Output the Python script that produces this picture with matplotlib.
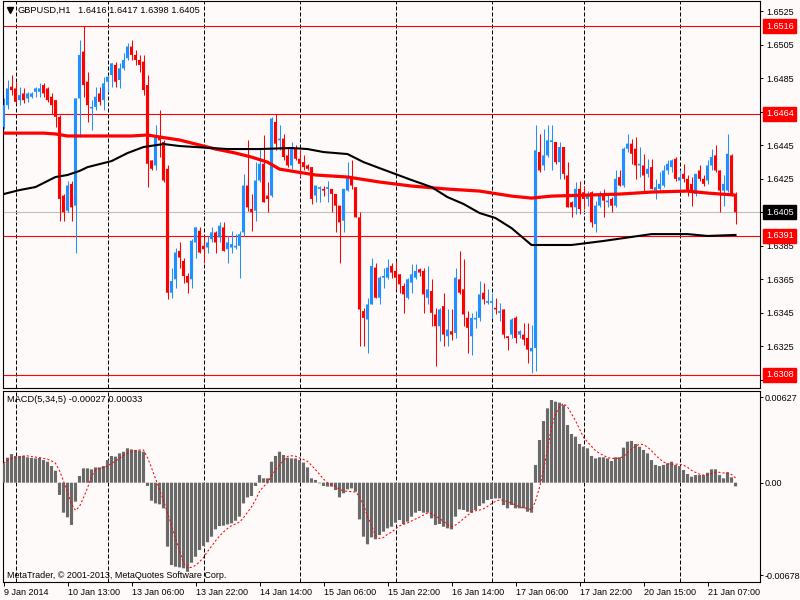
import numpy as np
import pandas as pd
import matplotlib
matplotlib.use("Agg")
import matplotlib.pyplot as plt
import matplotlib.transforms as mtrans

plt.rcParams['font.family'] = ['Liberation Sans', 'DejaVu Sans']
plt.rcParams['font.size'] = 6.5

BG = '#FFFAFA'
BULL = '#1E90FF'
BEAR = '#FF0000'

# GBPUSD H1, 9 Jan 21:00 .. 21 Jan 14:00
opens = [
    1.6456, 1.6469, 1.6480, 1.6479, 1.6472, 1.6476, 1.6473, 1.6474, 1.6477, 1.6477,
    1.6481, 1.6479, 1.6474, 1.6472, 1.6462, 1.6415, 1.6406, 1.6422, 1.6409, 1.6473,
    1.6501, 1.6483, 1.6467, 1.6468, 1.6476, 1.6472, 1.6483, 1.6487, 1.6493, 1.6484,
    1.6491, 1.6497, 1.6504, 1.6499, 1.6496, 1.6495, 1.6481, 1.6436, 1.6433, 1.6450,
    1.6447, 1.6431, 1.6357, 1.6365, 1.6382, 1.6376, 1.6367, 1.6365, 1.6387, 1.6394,
    1.6385, 1.6384, 1.6389, 1.6393, 1.6390, 1.6396, 1.6383, 1.6384, 1.6384, 1.6385,
    1.6393, 1.6421, 1.6407, 1.6406, 1.6424, 1.6434, 1.6415, 1.6415, 1.6459, 1.6448,
    1.6449, 1.6439, 1.6433, 1.6443, 1.6437, 1.6435, 1.6433, 1.6432, 1.6415, 1.6419,
    1.6419, 1.6419, 1.6419, 1.6416, 1.6409, 1.6400, 1.6418, 1.6426, 1.6420, 1.6402,
    1.6346, 1.6341, 1.6350, 1.6372, 1.6354, 1.6366, 1.6366, 1.6373, 1.6370, 1.6368,
    1.6361, 1.6354, 1.6363, 1.6366, 1.6371, 1.6370, 1.6354, 1.6358, 1.6344, 1.6337,
    1.6349, 1.6331, 1.6334, 1.6333, 1.6365, 1.6359, 1.6342, 1.6331, 1.6341, 1.6342,
    1.6357, 1.6351, 1.6351, 1.6348, 1.6345, 1.6347, 1.6331, 1.6332, 1.6342, 1.6332,
    1.6332, 1.6330, 1.6322, 1.6324, 1.6441, 1.6433, 1.6439, 1.6447, 1.6447, 1.6435,
    1.6444, 1.6427, 1.6411, 1.6408, 1.6419, 1.6417, 1.6413, 1.6417, 1.6398, 1.6409,
    1.6416, 1.6411, 1.6413, 1.6409, 1.6426, 1.6421, 1.6443, 1.6446, 1.6443, 1.6433,
    1.6433, 1.6428, 1.6432, 1.6418, 1.6419, 1.6421, 1.6430, 1.6432, 1.6437, 1.6424,
    1.6428, 1.6425, 1.6422, 1.6416, 1.6430, 1.6425, 1.6424, 1.6433, 1.6439, 1.6430,
    1.6418, 1.6418, 1.6439, 1.6416,
]
highs = [
    1.6473, 1.6484, 1.6487, 1.6483, 1.6480, 1.6479, 1.6477, 1.6477, 1.6480, 1.6482,
    1.6482, 1.6480, 1.6476, 1.6472, 1.6463, 1.6416, 1.6424, 1.6424, 1.6473, 1.6508,
    1.6516, 1.6489, 1.6472, 1.6480, 1.6480, 1.6486, 1.6487, 1.6494, 1.6495, 1.6494,
    1.6500, 1.6506, 1.6508, 1.6502, 1.6499, 1.6499, 1.6487, 1.6436, 1.6457, 1.6466,
    1.6448, 1.6433, 1.6372, 1.6384, 1.6387, 1.6378, 1.6369, 1.6389, 1.6396, 1.6396,
    1.6390, 1.6391, 1.6396, 1.6394, 1.6399, 1.6399, 1.6391, 1.6394, 1.6392, 1.6394,
    1.6428, 1.6448, 1.6416, 1.6435, 1.6443, 1.6451, 1.6423, 1.6462, 1.6464, 1.6457,
    1.6452, 1.6444, 1.6447, 1.6445, 1.6442, 1.6439, 1.6434, 1.6432, 1.6421, 1.6421,
    1.6421, 1.6424, 1.6419, 1.6416, 1.6409, 1.6419, 1.6435, 1.6436, 1.6420, 1.6405,
    1.6348, 1.6354, 1.6378, 1.6375, 1.6367, 1.6372, 1.6377, 1.6375, 1.6376, 1.6368,
    1.6363, 1.6366, 1.6374, 1.6374, 1.6372, 1.6372, 1.6373, 1.6365, 1.6348, 1.6348,
    1.6357, 1.6347, 1.6347, 1.6372, 1.6382, 1.6377, 1.6346, 1.6345, 1.6346, 1.6364,
    1.6363, 1.6359, 1.6357, 1.6354, 1.6351, 1.6347, 1.6331, 1.6342, 1.6343, 1.6335,
    1.6339, 1.6339, 1.6338, 1.6457, 1.6452, 1.6455, 1.6457, 1.6457, 1.6447, 1.6447,
    1.6444, 1.6435, 1.6412, 1.6423, 1.6424, 1.6421, 1.6418, 1.6418, 1.6412, 1.6418,
    1.6419, 1.6416, 1.6414, 1.6430, 1.6430, 1.6444, 1.6452, 1.6449, 1.6450, 1.6444,
    1.6440, 1.6437, 1.6437, 1.6425, 1.6429, 1.6433, 1.6436, 1.6437, 1.6438, 1.6430,
    1.6434, 1.6427, 1.6426, 1.6428, 1.6433, 1.6427, 1.6436, 1.6443, 1.6445, 1.6430,
    1.6427, 1.6452, 1.6440, 1.6417,
]
lows = [
    1.6455, 1.6467, 1.6475, 1.6470, 1.6469, 1.6470, 1.6471, 1.6473, 1.6474, 1.6474,
    1.6474, 1.6471, 1.6464, 1.6456, 1.6400, 1.6400, 1.6405, 1.6400, 1.6381, 1.6450,
    1.6474, 1.6459, 1.6454, 1.6466, 1.6469, 1.6466, 1.6477, 1.6480, 1.6480, 1.6479,
    1.6490, 1.6496, 1.6496, 1.6493, 1.6489, 1.6475, 1.6420, 1.6430, 1.6430, 1.6438,
    1.6423, 1.6353, 1.6354, 1.6360, 1.6372, 1.6363, 1.6357, 1.6360, 1.6378, 1.6381,
    1.6375, 1.6381, 1.6387, 1.6381, 1.6387, 1.6382, 1.6375, 1.6381, 1.6383, 1.6366,
    1.6391, 1.6406, 1.6394, 1.6400, 1.6423, 1.6411, 1.6405, 1.6414, 1.6442, 1.6442,
    1.6436, 1.6432, 1.6431, 1.6436, 1.6426, 1.6430, 1.6430, 1.6410, 1.6411, 1.6411,
    1.6415, 1.6411, 1.6405, 1.6393, 1.6375, 1.6393, 1.6418, 1.6419, 1.6402, 1.6325,
    1.6325, 1.6321, 1.6350, 1.6354, 1.6350, 1.6360, 1.6365, 1.6366, 1.6359, 1.6357,
    1.6345, 1.6353, 1.6357, 1.6365, 1.6367, 1.6345, 1.6350, 1.6337, 1.6313, 1.6328,
    1.6325, 1.6325, 1.6329, 1.6330, 1.6356, 1.6337, 1.6321, 1.6320, 1.6336, 1.6340,
    1.6350, 1.6350, 1.6342, 1.6344, 1.6340, 1.6330, 1.6323, 1.6330, 1.6327, 1.6330,
    1.6326, 1.6315, 1.6309, 1.6310, 1.6429, 1.6430, 1.6438, 1.6430, 1.6434, 1.6425,
    1.6425, 1.6408, 1.6402, 1.6404, 1.6404, 1.6407, 1.6409, 1.6396, 1.6393, 1.6408,
    1.6402, 1.6408, 1.6405, 1.6408, 1.6421, 1.6420, 1.6441, 1.6434, 1.6425, 1.6426,
    1.6418, 1.6426, 1.6419, 1.6413, 1.6418, 1.6420, 1.6428, 1.6429, 1.6424, 1.6417,
    1.6423, 1.6415, 1.6409, 1.6415, 1.6424, 1.6421, 1.6422, 1.6430, 1.6429, 1.6405,
    1.6409, 1.6417, 1.6415, 1.6398,
]
closes = [
    1.6469, 1.6479, 1.6478, 1.6471, 1.6475, 1.6472, 1.6476, 1.6476, 1.6479, 1.6479,
    1.6476, 1.6472, 1.6469, 1.6462, 1.6413, 1.6405, 1.6421, 1.6408, 1.6473, 1.6499,
    1.6481, 1.6469, 1.6468, 1.6474, 1.6471, 1.6482, 1.6486, 1.6494, 1.6483, 1.6491,
    1.6496, 1.6504, 1.6499, 1.6496, 1.6493, 1.6478, 1.6434, 1.6431, 1.6450, 1.6448,
    1.6424, 1.6357, 1.6364, 1.6381, 1.6378, 1.6367, 1.6363, 1.6388, 1.6396, 1.6381,
    1.6383, 1.6387, 1.6393, 1.6387, 1.6397, 1.6382, 1.6387, 1.6386, 1.6385, 1.6392,
    1.6421, 1.6408, 1.6405, 1.6424, 1.6434, 1.6411, 1.6413, 1.6461, 1.6446, 1.6449,
    1.6438, 1.6433, 1.6443, 1.6437, 1.6434, 1.6432, 1.6431, 1.6413, 1.6421, 1.6420,
    1.6418, 1.6420, 1.6416, 1.6409, 1.6399, 1.6419, 1.6426, 1.6421, 1.6402, 1.6347,
    1.6342, 1.6350, 1.6373, 1.6354, 1.6366, 1.6367, 1.6372, 1.6369, 1.6366, 1.6362,
    1.6356, 1.6365, 1.6368, 1.6370, 1.6369, 1.6356, 1.6359, 1.6345, 1.6337, 1.6347,
    1.6332, 1.6335, 1.6332, 1.6366, 1.6357, 1.6344, 1.6336, 1.6342, 1.6342, 1.6356,
    1.6353, 1.6352, 1.6352, 1.6347, 1.6346, 1.6332, 1.6330, 1.6341, 1.6330, 1.6334,
    1.6329, 1.6323, 1.6324, 1.6442, 1.6430, 1.6439, 1.6448, 1.6448, 1.6435, 1.6444,
    1.6428, 1.6408, 1.6408, 1.6419, 1.6407, 1.6413, 1.6416, 1.6399, 1.6409, 1.6416,
    1.6412, 1.6412, 1.6409, 1.6425, 1.6421, 1.6443, 1.6446, 1.6440, 1.6433, 1.6434,
    1.6427, 1.6431, 1.6419, 1.6420, 1.6422, 1.6430, 1.6434, 1.6436, 1.6425, 1.6426,
    1.6425, 1.6418, 1.6417, 1.6428, 1.6425, 1.6422, 1.6433, 1.6438, 1.6430, 1.6418,
    1.6422, 1.6440, 1.6415, 1.6405,
]

# MACD(5,34,5) main line, drawn as histogram
macd = [
    0.00142, 0.00183, 0.00210, 0.00196, 0.00196, 0.00196, 0.00186, 0.00181, 0.00178, 0.00181,
    0.00166, 0.00154, 0.00122, 0.00088, -0.00090, -0.00220, -0.00254, -0.00310, -0.00139, 0.00049,
    0.00105, 0.00105, 0.00098, 0.00112, 0.00112, 0.00122, 0.00166, 0.00196, 0.00191, 0.00215,
    0.00227, 0.00252, 0.00244, 0.00240, 0.00235, 0.00227, -0.00024, -0.00132, -0.00152, -0.00159,
    -0.00188, -0.00469, -0.00604, -0.00616, -0.00621, -0.00628, -0.00653, -0.00587, -0.00543, -0.00494,
    -0.00464, -0.00437, -0.00396, -0.00342, -0.00318, -0.00315, -0.00306, -0.00298, -0.00279, -0.00249,
    -0.00152, -0.00108, -0.00098, -0.00024, 0.00056, 0.00032, 0.00032, 0.00154, 0.00196, 0.00227,
    0.00203, 0.00183, 0.00178, 0.00178, 0.00166, 0.00147, 0.00112, 0.00032, 0.00020, -0.00005,
    -0.00024, -0.00029, -0.00029, -0.00054, -0.00108, -0.00078, -0.00049, -0.00042, -0.00066, -0.00269,
    -0.00396, -0.00452, -0.00401, -0.00415, -0.00384, -0.00359, -0.00335, -0.00323, -0.00293, -0.00274,
    -0.00303, -0.00286, -0.00249, -0.00220, -0.00208, -0.00220, -0.00220, -0.00262, -0.00310, -0.00303,
    -0.00323, -0.00335, -0.00342, -0.00249, -0.00196, -0.00200, -0.00213, -0.00220, -0.00200, -0.00171,
    -0.00152, -0.00127, -0.00120, -0.00115, -0.00115, -0.00164, -0.00188, -0.00164, -0.00188, -0.00188,
    -0.00188, -0.00213, -0.00220, 0.00130, 0.00313, 0.00452, 0.00545, 0.00606, 0.00594, 0.00587,
    0.00569, 0.00423, 0.00357, 0.00337, 0.00284, 0.00264, 0.00252, 0.00196, 0.00178, 0.00186,
    0.00186, 0.00178, 0.00159, 0.00186, 0.00186, 0.00257, 0.00301, 0.00306, 0.00284, 0.00264,
    0.00240, 0.00215, 0.00166, 0.00130, 0.00122, 0.00130, 0.00142, 0.00154, 0.00130, 0.00122,
    0.00093, 0.00064, 0.00044, 0.00056, 0.00056, 0.00056, 0.00073, 0.00098, 0.00098, 0.00056,
    0.00032, 0.00076, 0.00039, -0.00027,
]

# moving averages, read at selected bars
red_ma_bars = [0, 10, 13, 16, 32, 36, 39, 44, 49, 53, 58, 62, 66, 69, 78, 86, 94, 102,
               111, 119, 127, 132, 137, 146, 154, 162, 171, 176, 183]
red_ma_vals = [1.64523, 1.64523, 1.64518, 1.64506, 1.64506, 1.64512, 1.64500, 1.64482,
               1.64452, 1.64428, 1.64404, 1.64380, 1.64350, 1.64308, 1.64273, 1.64261,
               1.64231, 1.64207, 1.64189, 1.64177, 1.64147, 1.64135, 1.64147, 1.64153,
               1.64159, 1.64171, 1.64177, 1.64165, 1.64153]
black_ma_bars = [0, 4, 8, 10, 13, 16, 19, 21, 24, 27, 29, 31, 35, 40, 44, 48, 56, 64, 72,
                 76, 80, 86, 90, 94, 102, 107, 111, 115, 119, 123, 127, 132, 142, 150,
                 157, 162, 171, 176, 183]
black_ma_vals = [1.64159, 1.64183, 1.64201, 1.64225, 1.64261, 1.64273, 1.64297, 1.64320,
                 1.64338, 1.64356, 1.64380, 1.64404, 1.64440, 1.64458, 1.64446, 1.64440,
                 1.64428, 1.64428, 1.64434, 1.64428, 1.64410, 1.64398, 1.64350, 1.64314,
                 1.64243, 1.64201, 1.64141, 1.64100, 1.64046, 1.64016, 1.63956, 1.63855,
                 1.63855, 1.63879, 1.63903, 1.63920, 1.63920, 1.63909, 1.63915]

time_labels = ["9 Jan 2014", "10 Jan 13:00", "13 Jan 06:00", "13 Jan 22:00",
               "14 Jan 14:00", "15 Jan 06:00", "15 Jan 22:00", "16 Jan 14:00",
               "17 Jan 06:00", "17 Jan 22:00", "20 Jan 15:00", "21 Jan 07:00"]
label_bars = list(range(0, 184, 16))
day_breaks = [3, 26, 50, 74, 98, 122, 145, 169]

price_ticks = [1.6305, 1.6325, 1.6345, 1.6365, 1.6385, 1.6405,
               1.6425, 1.6445, 1.6465, 1.6485, 1.6505, 1.6525]
levels = [1.6516, 1.6464, 1.6391, 1.6308]
last_price = 1.6405
macd_ticks = [0.00627, 0.0, -0.00678]
macd_tick_labels = ["0.00627", "0.00", "-0.00678"]

W, H = 800, 600


def style_axes(ax, pad):
    ax.set_facecolor(BG)
    for s in ax.spines.values():
        s.set_color('black')
        s.set_linewidth(0.8)
    ax.yaxis.tick_right()
    ax.tick_params(axis='y', direction='out', length=2.2, width=0.7, pad=pad,
                   labelsize=6.5, colors='black')
    ax.set_xlim(-0.25, 189.125)
    for b in day_breaks:
        ax.axvline(b, color='black', lw=0.72, ls=(0, (4, 2)), zorder=1)


fig = plt.figure(figsize=(8, 6), dpi=100, facecolor=BG)
ax = fig.add_axes([2.5 / W, 1 - 388 / H, 757.5 / W, 387 / H])
ax2 = fig.add_axes([2.5 / W, 1 - 581.7 / H, 757.5 / W, 191 / H])
style_axes(ax, 2.5)
style_axes(ax2, 1.2)

# candles
o = np.array(opens)
hi = np.array(highs)
lo = np.array(lows)
c = np.array(closes)
x = np.arange(len(o))
cols = np.where(c > o, BULL, BEAR)
ax.vlines(x, lo, hi, colors=cols, lw=0.75, zorder=3)
body = np.maximum(np.abs(c - o), 0.00005)
bars = ax.bar(x, body, 0.78, np.minimum(o, c), color=cols, lw=0, zorder=3)
for p in bars:
    p.set_snap(False)

# moving averages
ax.plot(red_ma_bars, red_ma_vals, color=BEAR, lw=2.3, zorder=4, solid_capstyle='butt')
ax.plot(black_ma_bars, black_ma_vals, color='black', lw=1.5, zorder=4)

# horizontal levels and bid line
for lv in levels:
    ax.axhline(lv, color=BEAR, lw=0.8, zorder=2)
ax.axhline(last_price, color='#C0C0C0', lw=0.8, zorder=2)

ax.set_ylim(1.63001, 1.65312)
ax.set_xticks([])
ax.set_yticks(price_ticks)
ax.set_yticklabels([f"{p:.4f}" for p in price_ticks])

tr = mtrans.blended_transform_factory(ax.transAxes, ax.transData)
for lv in levels:
    ax.text(1 + 6 / 757.5, lv, f"{lv:.4f}", transform=tr, ha='left', va='center',
            color='white', fontsize=6.5, clip_on=False, zorder=10,
            bbox=dict(boxstyle='square,pad=0.28', fc=BEAR, ec=BEAR))
ax.text(1 + 6 / 757.5, last_price, f"{last_price:.4f}", transform=tr, ha='left',
        va='center', color='white', fontsize=6.5, clip_on=False, zorder=10,
        bbox=dict(boxstyle='square,pad=0.28', fc='black', ec='black'))

# MACD pane
m = pd.Series(macd)
signal = m.rolling(5, min_periods=1).mean()
hist = ax2.bar(x, m, 0.78, color='#696969', lw=0, zorder=3)
for p in hist:
    p.set_snap(False)
ax2.plot(x, signal, color=BEAR, lw=0.75, ls=(0, (2, 2)), zorder=4)
ax2.set_ylim(-0.00726, 0.006745)
ax2.set_yticks(macd_ticks)
ax2.set_yticklabels(macd_tick_labels)
ax2.set_xticks(label_bars)
ax2.set_xticklabels(time_labels, ha='left')
ax2.tick_params(axis='x', direction='out', length=3, width=0.7, pad=1.5,
                labelsize=6.5, colors='black')

# texts
fig.text(18 / W, 1 - 10.7 / H, "GBPUSD,H1", fontsize=6.7, va='center', ha='left')
fig.text(78.5 / W, 1 - 10.7 / H, "1.6416 1.6417 1.6398 1.6405", fontsize=6.7,
         va='center', ha='left')
fig.lines.append(plt.Line2D([9.5 / W], [1 - 10.2 / H], marker='v', ms=4.2, color='black',
                            mec='black', transform=fig.transFigure))
fig.text(7 / W, 1 - 399.5 / H, "MACD(5,34,5) -0.00027 0.00033", fontsize=6.7,
         va='center', ha='left')
fig.text(7 / W, 1 - 575 / H, "MetaTrader, \u00a9 2001-2013, MetaQuotes Software Corp.",
         fontsize=6.5, va='center', ha='left')

fig.savefig("out.png", dpi=100, facecolor=BG)
